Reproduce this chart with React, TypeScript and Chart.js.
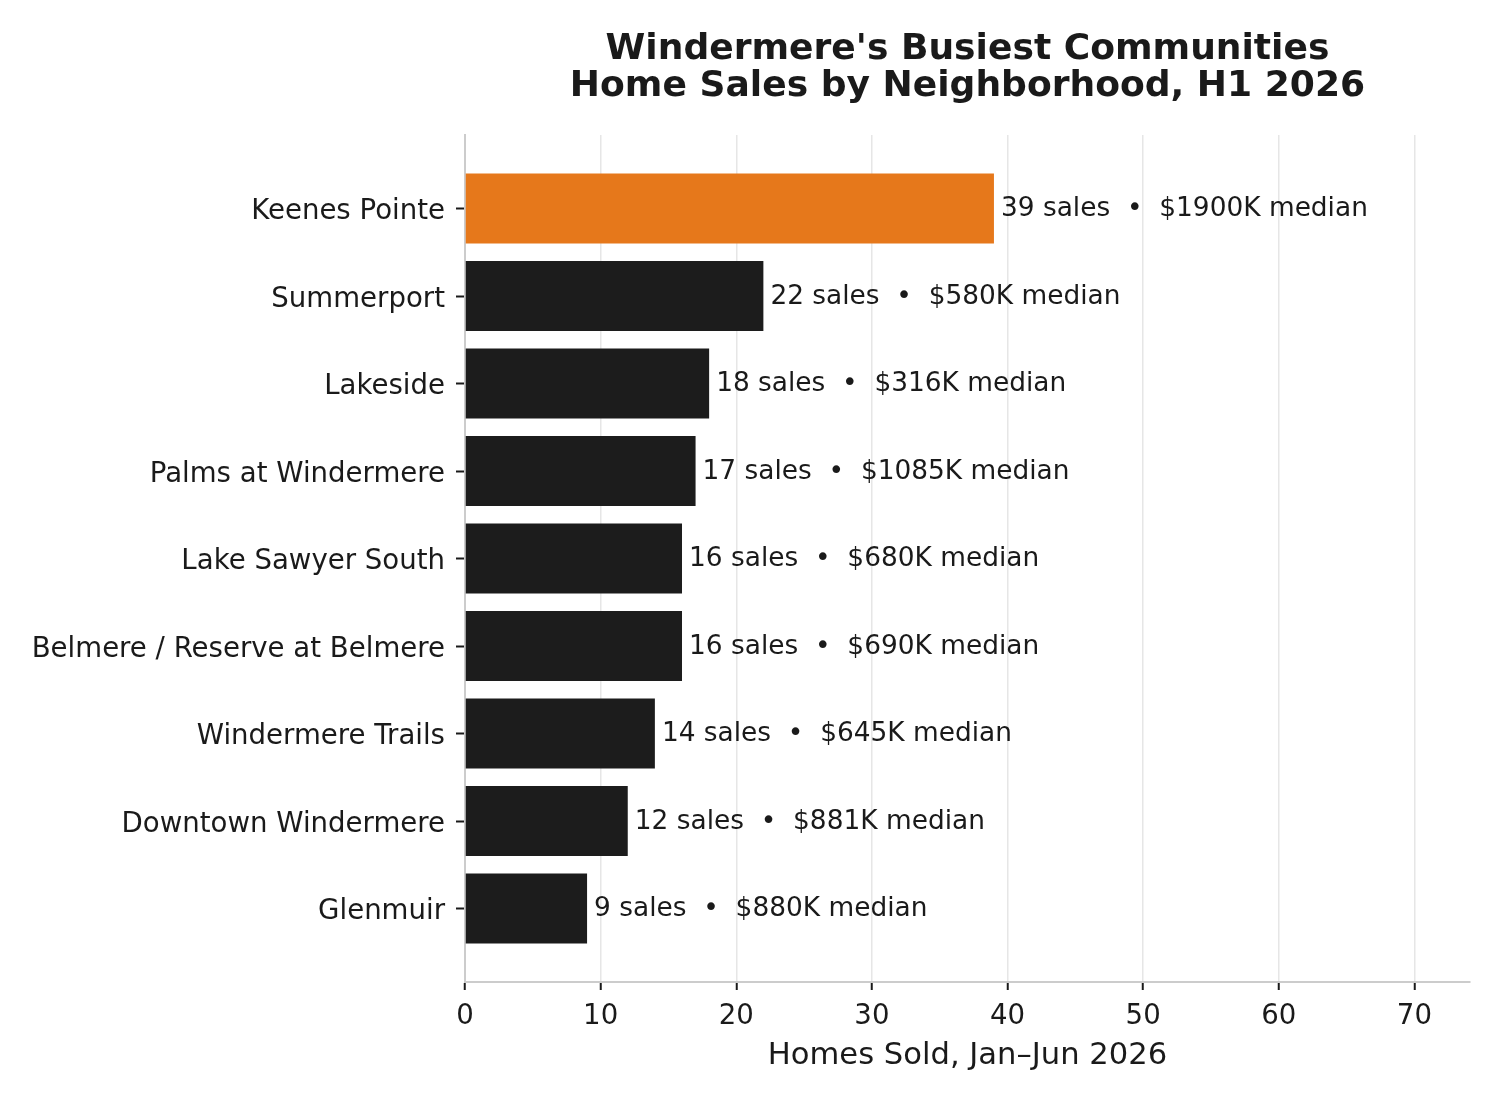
import React, { useEffect, useRef } from "react";
import { Chart, registerables } from "chart.js";

Chart.register(...registerables);

const neighborhoods = [
  "Keenes Pointe",
  "Summerport",
  "Lakeside",
  "Palms at Windermere",
  "Lake Sawyer South",
  "Belmere / Reserve at Belmere",
  "Windermere Trails",
  "Downtown Windermere",
  "Glenmuir",
];
const salesCounts = [39, 22, 18, 17, 16, 16, 14, 12, 9];
const medianPricesK = [1900, 580, 316, 1085, 680, 690, 645, 881, 880];
const xTicks = [0, 10, 20, 30, 40, 50, 60, 70];
const titleLines = ["Windermere's Busiest Communities", "Home Sales by Neighborhood, H1 2026"];
const xAxisTitle = "Homes Sold, Jan\u2013Jun 2026";

const FONT = "'DejaVu Sans', 'Liberation Sans', sans-serif";
const TEXT = "#1a1a1a";

export default function App() {
  const ref = useRef<HTMLCanvasElement | null>(null);

  useEffect(() => {
    document.body.style.margin = "0";
    const canvas = ref.current;
    if (!canvas) return;

    const labelPlugin = {
      id: "barLabels",
      afterDatasetsDraw(chart: any) {
        const ctx = chart.ctx;
        const meta = chart.getDatasetMeta(0);
        ctx.save();
        ctx.font = `26.4px ${FONT}`;
        ctx.fillStyle = TEXT;
        ctx.textAlign = "left";
        ctx.textBaseline = "alphabetic";
        meta.data.forEach((el: any, i: number) => {
          const txt = `${salesCounts[i]} sales  \u2022  $${medianPricesK[i]}K median`;
          ctx.fillText(txt, el.x + 7, el.y + 7.5);
        });
        ctx.restore();
      },
      afterDraw(chart: any) {
        const ctx = chart.ctx;
        const ca = chart.chartArea;
        const cx = (ca.left + ca.right) / 2;
        const xs = chart.scales.x;
        const ys = chart.scales.y;
        ctx.save();
        ctx.fillStyle = TEXT;
        // y tick labels
        ctx.font = `27.6px ${FONT}`;
        ctx.textAlign = "right";
        ctx.textBaseline = "alphabetic";
        neighborhoods.forEach((name, i) => {
          ctx.fillText(name, ca.left - 20, ys.getPixelForValue(i) + 10.5);
        });
        // x tick labels
        ctx.textAlign = "center";
        xTicks.forEach((v) => {
          ctx.fillText(String(v), xs.getPixelForValue(v), ca.bottom + 42);
        });
        // titles
        ctx.textBaseline = "middle";
        ctx.font = `bold 36.1px ${FONT}`;
        ctx.fillText(titleLines[0], cx, 50);
        ctx.fillText(titleLines[1], cx, 87);
        ctx.font = `30.6px ${FONT}`;
        ctx.fillText(xAxisTitle, cx, 1056);
        ctx.restore();
      },
    };

    const chart = new Chart(canvas, {
      type: "bar",
      data: {
        datasets: [
          {
            data: salesCounts.map((v, i) => ({ x: v, y: i })),
            backgroundColor: salesCounts.map((_, i) => (i === 0 ? "#e6781b" : "#1c1c1c")),
            borderWidth: 0,
            barPercentage: 0.8,
            categoryPercentage: 1,
          },
        ],
      },
      options: {
        indexAxis: "y",
        responsive: false,
        animation: false,
        devicePixelRatio: 1,
        layout: { padding: { left: 0, right: 30, top: 135, bottom: 0 } },
        plugins: {
          legend: { display: false },
          tooltip: { enabled: false },
          title: { display: false },
        },
        scales: {
          x: {
            type: "linear",
            min: 0,
            max: 74.1,
            position: "bottom",
            offset: false,
            afterBuildTicks: (scale: any) => {
              scale.ticks = xTicks.map((v) => ({ value: v }));
            },
            afterFit: (scale: any) => {
              scale.height = 118;
            },
            grid: {
              color: "#e6e6e6",
              lineWidth: 1.5,
              offset: false,
              drawTicks: true,
              tickLength: 8,
              tickWidth: 2,
              tickColor: TEXT,
            },
            border: { display: true, color: "#cccccc", width: 2 },
            ticks: { display: false },
          },
          y: {
            type: "linear",
            min: -0.84,
            max: 8.84,
            reverse: true,
            position: "left",
            offset: false,
            afterBuildTicks: (scale: any) => {
              scale.ticks = neighborhoods.map((_, i) => ({ value: i }));
            },
            afterFit: (scale: any) => {
              scale.width = 465;
            },
            grid: {
              drawOnChartArea: false,
              offset: false,
              drawTicks: true,
              tickLength: 9,
              tickWidth: 2,
              tickColor: TEXT,
            },
            border: { display: true, color: "#cccccc", width: 2 },
            ticks: { display: false },
          },
        },
      },
      plugins: [labelPlugin],
    } as any);

    return () => chart.destroy();
  }, []);

  return (
    <div style={{ width: 1500, height: 1100 }}>
      <canvas ref={ref} width={1500} height={1100} style={{ width: 1500, height: 1100, display: "block" }} />
    </div>
  );
}
